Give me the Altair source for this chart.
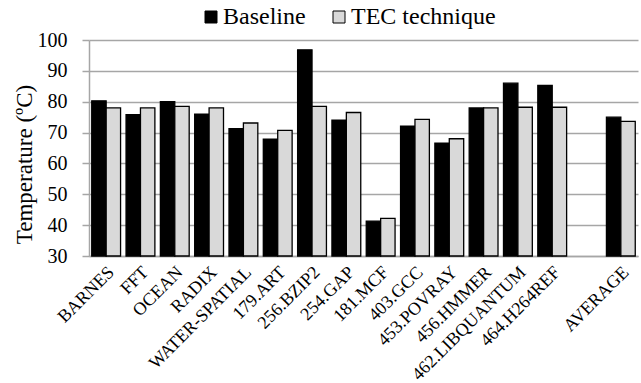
import altair as alt
import pandas as pd

categories = ["BARNES", "FFT", "OCEAN", "RADIX", "WATER-SPATIAL", "179.ART", "256.BZIP2",
              "254.GAP", "181.MCF", "403.GCC", "453.POVRAY", "456.HMMER",
              "462.LIBQUANTUM", "464.H264REF", "AVERAGE"]
baseline = [80.3, 75.8, 80.0, 76.0, 71.3, 67.9, 96.8, 74.0, 41.3, 72.1, 66.6, 78.0, 86.0, 85.3, 75.0]
tec = [78.0, 78.0, 78.5, 78.0, 73.1, 70.7, 78.5, 76.5, 42.2, 74.3, 68.0, 78.0, 78.2, 78.2, 73.6]
series = ["Baseline", "TEC technique"]
y_ticks = [30, 40, 50, 60, 70, 80, 90, 100]

GAP = "_gap"
x_domain = categories[:-1] + [GAP] + categories[-1:]

rows = []
for c, b, t in zip(categories, baseline, tec):
    rows.append({"cat": c, "series": series[0], "value": b})
    rows.append({"cat": c, "series": series[1], "value": t})
df = pd.DataFrame(rows)

FONT = "Liberation Serif"

chart = alt.Chart(df).mark_bar(stroke="black", strokeWidth=1.3).encode(
    x=alt.X("cat:N", sort=x_domain,
            scale=alt.Scale(domain=x_domain, paddingInner=0.16, paddingOuter=0.08),
            axis=alt.Axis(title=None, labelAngle=-45, labelFontSize=18, labelFont=FONT,
                          labelColor="black", ticks=False, domainColor="#a6a6a6",
                          domainWidth=1.5, labelPadding=7, labelOffset=-1,
                          labelExpr="datum.value == '_gap' ? '' : datum.value")),
    xOffset=alt.XOffset("series:N", sort=series, scale=alt.Scale(paddingInner=0, paddingOuter=0)),
    y=alt.Y("value:Q", scale=alt.Scale(domain=[30, 100], nice=False, zero=False),
            axis=alt.Axis(title="Temperature (ºC)", values=y_ticks, labelFontSize=20,
                          labelFont=FONT, labelColor="black", titleFont=FONT,
                          titleFontSize=23, titleFontWeight="normal", titleColor="black",
                          titleX=-53, titleY=124, titleAngle=270, titleAlign="center",
                          titleBaseline="bottom",
                          tickColor="#a6a6a6", tickSize=7, tickWidth=1.5,
                          domainColor="#a6a6a6", domainWidth=1.5, gridColor="#a6a6a6",
                          gridWidth=1.5, labelPadding=15)),
    y2=alt.datum(30),
    color=alt.Color("series:N", sort=series,
                    scale=alt.Scale(domain=series, range=["#000000", "#d9d9d9"]),
                    legend=alt.Legend(title=None, orient="none", direction="horizontal",
                                      legendX=110, legendY=-35, symbolType="square",
                                      symbolSize=144, symbolStrokeColor="black",
                                      symbolStrokeWidth=1, labelFont=FONT, labelFontSize=24,
                                      labelColor="black", columnPadding=21, labelOffset=0)),
).properties(
    width=549, height=216,
    autosize=alt.AutoSizeParams(type="none"),
    padding={"left": 89, "top": 40, "right": 3, "bottom": 127},
).configure(font=FONT).configure_view(stroke=None)

chart.save("out.html", embed_options={"renderer": "svg", "actions": False})
